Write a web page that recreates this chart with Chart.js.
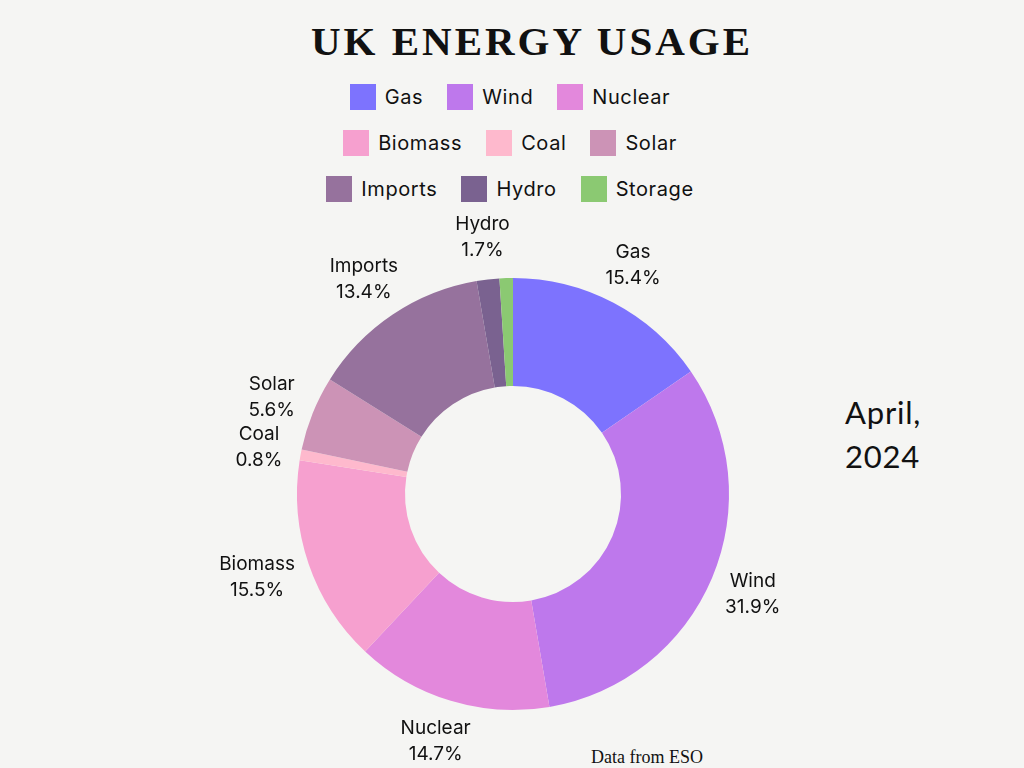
<!DOCTYPE html>
<html>
<head>
<meta charset="utf-8">
<script src="https://cdn.jsdelivr.net/npm/chart.js@4.4.1/dist/chart.umd.min.js"></script>
<style>
  html, body { margin: 0; padding: 0; }
  body { width: 1024px; height: 768px; background: #f5f5f3; position: relative; overflow: hidden; font-family: 'Inter', sans-serif; color: #111; }
  #titulo { position: absolute; left: 40px; width: 984px; top: 17px; text-align: center; font-family: 'Liberation Serif', serif; font-weight: bold; font-size: 41px; letter-spacing: 3px; }
  #leyenda { position: absolute; left: 0; width: 1020px; top: 74px; }
  .fila { display: flex; justify-content: center; height: 46px; align-items: center; }
  .item { display: flex; align-items: center; margin: 0 12px; font-size: 20px; letter-spacing: 0.6px; }
  .caja { width: 26px; height: 26px; margin-right: 9px; }
  #fecha { position: absolute; left: 845px; top: 390px; font-family: 'Lato', sans-serif; font-size: 31px; line-height: 44px; letter-spacing: 0.8px; }
  #fuente { position: absolute; left: 591px; top: 747px; font-family: 'Liberation Serif', serif; font-size: 18px; }
  #lienzo { position: absolute; left: 193px; top: 200px; width: 640px; height: 568px; }
</style>
</head>
<body>
<div id="titulo">UK ENERGY USAGE</div>
<div id="leyenda"></div>
<div id="fecha">April,<br>2024</div>
<div id="fuente">Data from ESO</div>
<div id="lienzo"><canvas id="grafico"></canvas></div>
<script>
// Datos del gráfico
const fuentes = ['Gas', 'Wind', 'Nuclear', 'Biomass', 'Coal', 'Solar', 'Imports', 'Hydro', 'Storage'];
const porcentajes = [15.4, 31.9, 14.7, 15.5, 0.8, 5.6, 13.4, 1.7, 1.0];
const colores = ['#7d73fe', '#be78ec', '#e388dc', '#f6a0cf', '#feb9cd', '#cc93b6', '#96729d', '#7a6290', '#8bc972'];
const filasLeyenda = [[0, 1, 2], [3, 4, 5], [6, 7, 8]];

// Leyenda en HTML
const leyenda = document.getElementById('leyenda');
filasLeyenda.forEach(fila => {
    const div = document.createElement('div');
    div.className = 'fila';
    fila.forEach(i => {
        const item = document.createElement('div');
        item.className = 'item';
        item.innerHTML = `<span class="caja" style="background:${colores[i]}"></span>${fuentes[i]}`;
        div.appendChild(item);
    });
    leyenda.appendChild(div);
});

// Etiquetas fuera de cada sector
const etiquetasExternas = {
    id: 'etiquetasExternas',
    afterDatasetsDraw(chart) {
        const ctx = chart.ctx;
        const meta = chart.getDatasetMeta(0);
        ctx.save();
        ctx.font = '19px Inter';
        ctx.fillStyle = '#111';
        ctx.textAlign = 'center';
        ctx.textBaseline = 'middle';
        meta.data.forEach((arco, i) => {
            if (fuentes[i] === 'Storage') return;
            const p = arco.getProps(['x', 'y', 'startAngle', 'endAngle', 'outerRadius']);
            const ang = (p.startAngle + p.endAngle) / 2;
            const r = p.outerRadius + 42;
            const ancho = ctx.measureText(fuentes[i]).width;
            const x = p.x + Math.cos(ang) * r + Math.cos(ang) * Math.max(0, ancho / 2 - 20) * 0.7;
            const y = p.y + Math.sin(ang) * r;
            ctx.fillText(fuentes[i], x, y - 13);
            ctx.fillText(porcentajes[i].toFixed(1) + '%', x, y + 13);
        });
        ctx.restore();
    }
};

new Chart(document.getElementById('grafico'), {
    type: 'doughnut',
    data: {
        labels: fuentes,
        datasets: [{
            data: porcentajes,
            backgroundColor: colores,
            borderWidth: 0
        }]
    },
    options: {
        responsive: true,
        maintainAspectRatio: false,
        animation: false,
        cutout: '50%',
        layout: { padding: { top: 78, bottom: 58, left: 64, right: 64 } },
        plugins: {
            legend: { display: false },
            tooltip: { enabled: false }
        }
    },
    plugins: [etiquetasExternas]
});
</script>
</body>
</html>
